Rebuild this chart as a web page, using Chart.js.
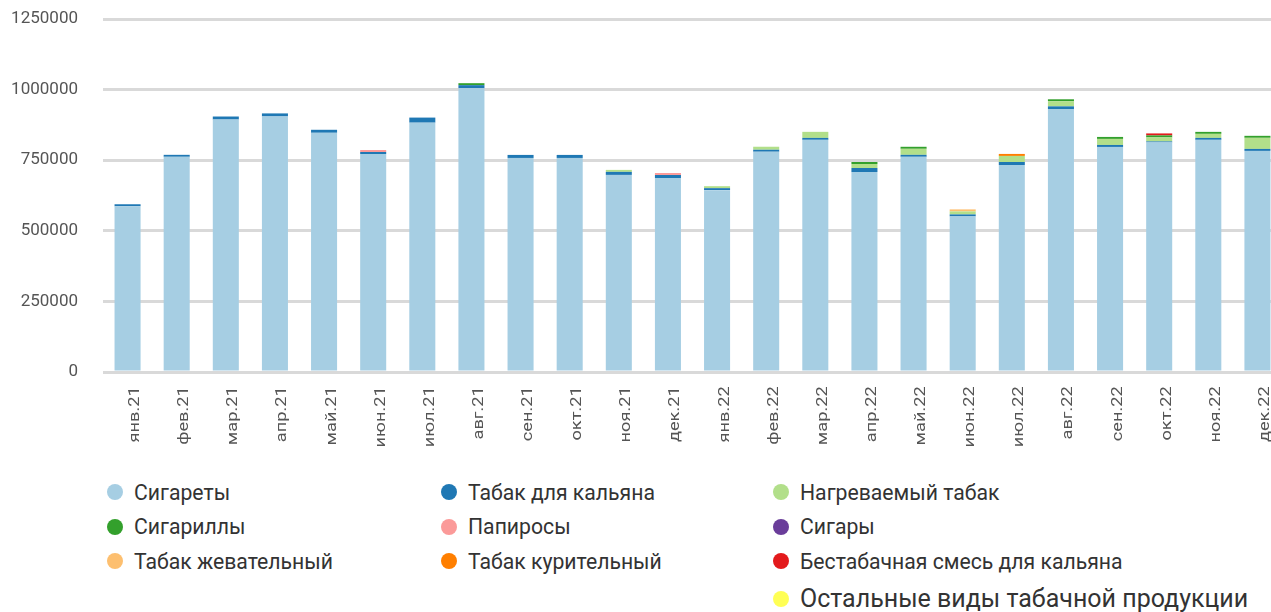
<!DOCTYPE html>
<html>
<head>
<meta charset="utf-8">
<script src="https://cdn.jsdelivr.net/npm/chart.js@4/dist/chart.umd.min.js"></script>
<style>
  html, body { margin: 0; padding: 0; background: #fff; overflow: hidden; width: 1271px; height: 612px; }
  #wrap { position: absolute; left: 0; top: 0; width: 1282px; height: 460px; }
  #legend { position: absolute; left: 107px; top: 475px; font-family: Roboto, sans-serif; color: #333;
            display: grid; grid-template-columns: 334px 332px 480px; grid-auto-rows: 34.5px; }
  .li { display: flex; align-items: center; font-size: 21.2px; white-space: nowrap; }
  .dot { width: 16px; height: 16px; border-radius: 50%; margin-right: 11px; flex: none; }
  .li.big { font-size: 25px; grid-column: 3; margin-top: 6px; }
</style>
</head>
<body>
<div id="wrap"><canvas id="c"></canvas></div>
<div id="legend"></div>
<script>
const categories = ["янв.21","фев.21","мар.21","апр.21","май.21","июн.21","июл.21","авг.21","сен.21","окт.21","ноя.21","дек.21",
                    "янв.22","фев.22","мар.22","апр.22","май.22","июн.22","июл.22","авг.22","сен.22","окт.22","ноя.22","дек.22"];
const seriesNames = ["Сигареты","Табак для кальяна","Нагреваемый табак","Сигариллы","Папиросы","Сигары",
                     "Табак жевательный","Табак курительный","Бестабачная смесь для кальяна","Остальные виды табачной продукции"];
const seriesColors = ["#a6cee3","#1f78b4","#b2df8a","#33a02c","#fb9a99","#6a3d9a","#fdbf6f","#ff7f00","#e31a1c","#ffff55"];

const cigarettes   = [587000,762000,894000,905000,847000,772000,883000,1005000,758000,758000,698000,687000,
                      644000,780000,822000,708000,762000,551000,733000,930000,797000,813000,822000,783000];
const hookahTobacco= [7000,7000,10700,10700,10700,7000,17900,10700,10700,10700,10700,10700,
                      7000,7000,7000,14300,7000,7000,10700,10700,7000,3500,7000,7000];
const heatedTobacco= [0,0,0,0,0,0,0,0,0,0,7000,0,
                      7000,10700,21400,14300,21400,10700,21400,17900,21400,14300,14300,39300];
const cigarillos   = [0,0,0,0,0,0,0,7000,0,0,0,0,
                      0,0,0,7100,7100,0,0,7100,7000,7000,7000,7000];
const papirosy     = [0,0,0,0,0,7000,0,0,0,0,0,7000,
                      0,0,0,0,0,0,0,0,0,0,0,0];
const cigars       = [0,0,0,0,0,0,0,0,0,0,0,0,0,0,0,0,0,0,0,0,0,0,0,0];
const chewing      = [0,0,0,0,0,0,0,0,0,0,0,0,
                      0,0,0,0,0,7100,0,0,0,0,0,0];
const smoking      = [0,0,0,0,0,0,0,0,0,0,0,0,
                      0,0,0,0,0,0,7100,0,0,0,0,0];
const hookahMix    = [0,0,0,0,0,0,0,0,0,0,0,0,
                      0,0,0,0,0,0,0,0,0,7000,0,0];
const otherTobacco = [0,0,0,0,0,0,0,0,0,0,0,0,0,0,0,0,0,0,0,0,0,0,0,0];
const yTicks = [0,250000,500000,750000,1000000,1250000];

const seriesValues = [cigarettes,hookahTobacco,heatedTobacco,cigarillos,papirosy,cigars,chewing,smoking,hookahMix,otherTobacco];

const datasets = seriesNames.map((name,i)=>({
  label: name,
  data: seriesValues[i],
  backgroundColor: seriesColors[i],
  borderWidth: 0,
  barPercentage: 0.53,
  categoryPercentage: 1.0,
  stack: 's'
}));

// Stretch the rotated x-axis labels along their reading direction (as in the reference rendering)
const LABEL_STRETCH = 1.3;
const stretchLabels = {
  id: 'stretchLabels',
  beforeDraw(chart) {
    const s = chart.scales.x;
    if (s && !s._stretched) {
      const orig = s.drawLabels.bind(s);
      s.drawLabels = function (area) {
        const ctx = this.ctx;
        ctx.save();
        ctx.translate(0, this.top);
        ctx.scale(1, LABEL_STRETCH);
        ctx.translate(0, -this.top);
        orig(area);
        ctx.restore();
      };
      s._stretched = true;
    }
  }
};

const chart = new Chart(document.getElementById('c'), {
  type: 'bar',
  data: { labels: categories, datasets },
  plugins: [stretchLabels],
  options: {
    responsive: true,
    maintainAspectRatio: false,
    animation: false,
    layout: { padding: { top: 19, left: 0, right: 0, bottom: 0 } },
    plugins: { legend: { display: false }, tooltip: { enabled: false } },
    scales: {
      x: {
        stacked: true,
        grid: { display: false, drawTicks: false },
        border: { display: false },
        ticks: { font: { family: 'Roboto', size: 14 }, color: '#555', minRotation: 90, maxRotation: 90,
                 padding: 11, labelOffset: 8, autoSkip: false },
        afterFit: (s) => { s.height = 88; s.paddingLeft = 0; s.paddingRight = 0; }
      },
      y: {
        stacked: true,
        min: 0, max: 1250000,
        afterBuildTicks: (s) => { s.ticks = yTicks.map(v=>({value:v})); },
        grid: { color: '#d9d9d9', lineWidth: 3, drawTicks: false },
        border: { display: false },
        ticks: { font: { family: 'Roboto', size: 17 }, color: '#555', padding: 25, callback: v => String(v) },
        afterFit: (s) => { s.width = 103; s.paddingTop = 0; s.paddingBottom = 0; }
      }
    }
  }
});
chart.draw();

const leg = document.getElementById('legend');
chart.data.datasets.forEach((ds,i)=>{
  const d = document.createElement('div');
  d.className = 'li' + (i === 9 ? ' big' : '');
  const dot = document.createElement('span');
  dot.className = 'dot';
  dot.style.background = ds.backgroundColor;
  const t = document.createElement('span');
  t.textContent = ds.label;
  d.appendChild(dot); d.appendChild(t);
  leg.appendChild(d);
});
</script>
</body>
</html>
